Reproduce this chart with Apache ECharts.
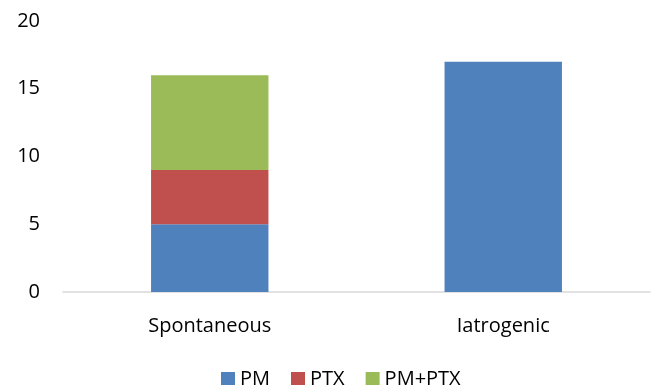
<!DOCTYPE html>
<html>
<head>
<meta charset="utf-8">
<script src="https://cdn.jsdelivr.net/npm/echarts@6/dist/echarts.min.js"></script>
<style>
    html, body {margin: 0; padding: 0; background: #fff;}
    #main {width: 652px; height: 385px;}
</style>
</head>
<body>
<div id="main"></div>
<script>
var categories = ['Spontaneous', 'Iatrogenic'];
var pm = [5, 17];
var ptx = [4, 0];
var pmPtx = [7, 0];
var yTicks = [0, 5, 10, 15, 20];

var font = 'Open Sans';

var myChart = echarts.init(document.getElementById('main'));
var option = {
    animation: false,
    textStyle: {fontFamily: font},
    grid: {
        left: 63,
        right: 2,
        top: 21,
        bottom: 93
    },
    legend: {
        data: ['PM', 'PTX', 'PM+PTX'],
        top: 364,
        left: 216,
        itemWidth: 14,
        itemHeight: 14,
        itemGap: 21,
        icon: 'rect',
        textStyle: {
            color: '#000',
            fontSize: 20,
            fontFamily: font
        }
    },
    xAxis: {
        type: 'category',
        data: categories,
        axisTick: {show: false},
        axisLine: {
            lineStyle: {color: '#D9D9D9', width: 1.5}
        },
        axisLabel: {
            color: '#000',
            fontSize: 20,
            margin: 24,
            fontFamily: font
        }
    },
    yAxis: {
        type: 'value',
        min: yTicks[0],
        max: yTicks[yTicks.length - 1],
        interval: 5,
        splitLine: {show: false},
        axisLine: {show: false},
        axisTick: {show: false},
        axisLabel: {
            color: '#000',
            fontSize: 20,
            margin: 23,
            fontFamily: font
        }
    },
    series: [
        {
            name: 'PM',
            type: 'bar',
            stack: 'total',
            barWidth: '40%',
            data: pm,
            itemStyle: {color: '#4F81BD'}
        },
        {
            name: 'PTX',
            type: 'bar',
            stack: 'total',
            data: ptx,
            itemStyle: {color: '#C0504D'}
        },
        {
            name: 'PM+PTX',
            type: 'bar',
            stack: 'total',
            data: pmPtx,
            itemStyle: {color: '#9BBB59'}
        }
    ]
};
myChart.setOption(option);
</script>
</body>
</html>
